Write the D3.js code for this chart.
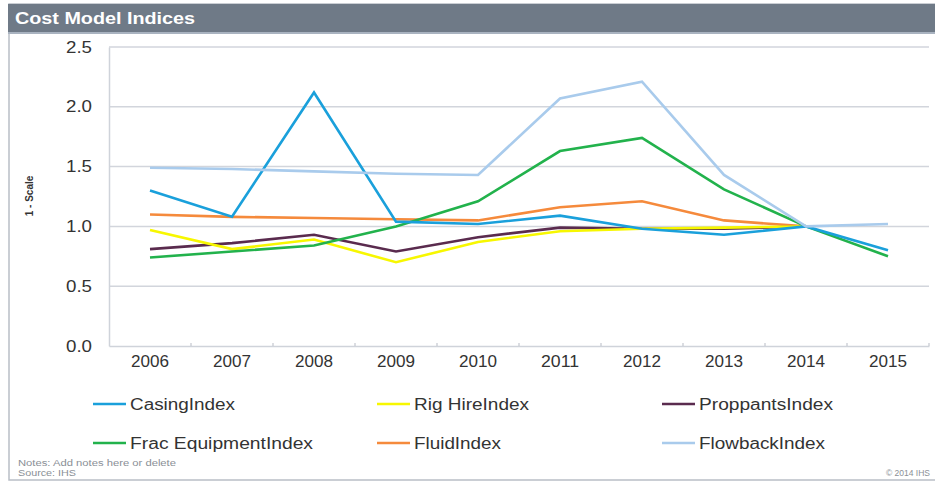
<!DOCTYPE html>
<html><head><meta charset="utf-8">
<script src="https://cdn.jsdelivr.net/npm/d3@7"></script>
<style>body{margin:0;background:#fff;}svg{display:block;font-family:Arial,"Liberation Sans",sans-serif;}</style>
</head><body>
<svg id="c" width="935" height="483"></svg>
<script>
const years = ["2006","2007","2008","2009","2010","2011","2012","2013","2014","2015"];
const yTicks = [0.0, 0.5, 1.0, 1.5, 2.0, 2.5];
const casing    = [1.30, 1.08, 2.12, 1.04, 1.02, 1.09, 0.98, 0.93, 1.00, 0.80];
const rigHire   = [0.97, 0.81, 0.89, 0.70, 0.87, 0.96, 0.98, 0.99, 1.00, null];
const proppants = [0.81, 0.86, 0.93, 0.79, 0.91, 0.99, 0.98, 0.98, 1.00, null];
const frac      = [0.74, 0.79, 0.84, 1.00, 1.21, 1.63, 1.74, 1.31, 1.00, 0.75];
const fluid     = [1.10, 1.08, 1.07, 1.06, 1.05, 1.16, 1.21, 1.05, 1.00, null];
const flowback  = [1.49, 1.48, 1.46, 1.44, 1.43, 2.07, 2.21, 1.43, 1.00, 1.02];
const seriesNames = ["CasingIndex","Rig HireIndex","ProppantsIndex","Frac EquipmentIndex","FluidIndex","FlowbackIndex"];
const seriesColors = ["#1aa0db","#f7f700","#5a2b4e","#22b24c","#f58a3c","#a9cbec"];
const seriesData = [casing, rigHire, proppants, frac, fluid, flowback];
const legendWidths = [105, 115, 134, 183, 87, 126];

const svg = d3.select("#c");
const FONT = "Arial,'Liberation Sans',sans-serif";
// frame
svg.append("rect").attr("x",9).attr("y",4).attr("width",930).attr("height",476)
  .attr("fill","#fff").attr("stroke","#b9bec6").attr("stroke-width",1.5);
svg.append("rect").attr("x",8).attr("y",4).attr("width",927).attr("height",29).attr("fill","#6f7a87");
svg.append("line").attr("x1",8).attr("x2",935).attr("y1",33).attr("y2",33).attr("stroke","#a9b3c0").attr("stroke-width",2);
svg.append("text").attr("x",15).attr("y",24).attr("fill","#fff").attr("font-weight","bold")
  .attr("font-size",16).attr("textLength",180).attr("lengthAdjust","spacingAndGlyphs").text("Cost Model Indices");

const x = d3.scaleBand().domain(years).range([109, 929]);
const y = d3.scaleLinear().domain([0, 2.5]).range([346, 47]);

// gridlines
svg.append("g").selectAll("line").data(yTicks.filter(d=>d>0)).join("line")
  .attr("x1",109).attr("x2",929).attr("y1",d=>y(d)).attr("y2",d=>y(d))
  .attr("stroke","#d2d5dc").attr("stroke-width",1.5);

// y axis
const ya = svg.append("g").attr("transform","translate(109,0)")
  .call(d3.axisLeft(y).tickValues(yTicks).tickFormat(d3.format(".1f")).tickSize(0).tickPadding(17));
ya.select(".domain").attr("stroke","#cfd3da").attr("stroke-width",1.5);
ya.selectAll("text").attr("font-size",16).attr("fill","#333").attr("font-family",FONT)
  .attr("textLength",26).attr("lengthAdjust","spacingAndGlyphs");

// x axis
const xa = svg.append("g").attr("transform","translate(0,346)")
  .call(d3.axisBottom(x).tickSize(0).tickPadding(10));
xa.select(".domain").attr("stroke","#cfd3da").attr("stroke-width",1.5);
xa.selectAll("text").attr("font-size",16).attr("fill","#333").attr("font-family",FONT)
  .attr("textLength",38).attr("lengthAdjust","spacingAndGlyphs");
// boundary ticks
const bounds = years.map(d=>x(d)).concat([929]).slice(1);
svg.append("g").selectAll("line").data(bounds).join("line")
  .attr("x1",d=>d).attr("x2",d=>d).attr("y1",343).attr("y2",346)
  .attr("stroke","#c3c7cf").attr("stroke-width",1.2);

// y-axis title
svg.append("text").attr("transform","translate(33,196) rotate(-90)").attr("text-anchor","middle")
  .attr("font-size",10).attr("font-weight","bold").attr("fill","#333").text("1 - Scale");

// lines
const line = d3.line().defined(d=>d.v!==null).x(d=>x(d.year)+x.bandwidth()/2).y(d=>y(d.v));
const order = [4,2,1,3,0,5];
order.forEach(i=>{
  const pts = years.map((yr,j)=>({year:yr, v:seriesData[i][j]}));
  svg.append("path").datum(pts).attr("d",line).attr("fill","none")
    .attr("stroke",seriesColors[i]).attr("stroke-width",2.6).attr("stroke-linejoin","miter");
});

// legend
const legX = [93, 377, 662], legY = [404, 443];
seriesNames.forEach((n,i)=>{
  const lx = legX[i%3], ly = legY[Math.floor(i/3)];
  svg.append("line").attr("x1",lx).attr("x2",lx+33).attr("y1",ly).attr("y2",ly)
    .attr("stroke",seriesColors[i]).attr("stroke-width",2.6);
  svg.append("text").attr("x",lx+37).attr("y",ly+6).attr("font-size",16).attr("fill","#333")
    .attr("textLength",legendWidths[i]).attr("lengthAdjust","spacingAndGlyphs").text(n);
});

// notes
svg.append("text").attr("x",18).attr("y",466).attr("font-size",8.5).attr("fill","#8a8f96")
  .attr("textLength",158).attr("lengthAdjust","spacingAndGlyphs").text("Notes: Add notes here or delete");
svg.append("text").attr("x",18).attr("y",476).attr("font-size",8.5).attr("fill","#8a8f96")
  .attr("textLength",58).attr("lengthAdjust","spacingAndGlyphs").text("Source: IHS");
svg.append("text").attr("x",930).attr("y",476).attr("text-anchor","end").attr("font-size",8.5).attr("fill","#8a8f96")
  .text("© 2014 IHS");
</script>
</body></html>
